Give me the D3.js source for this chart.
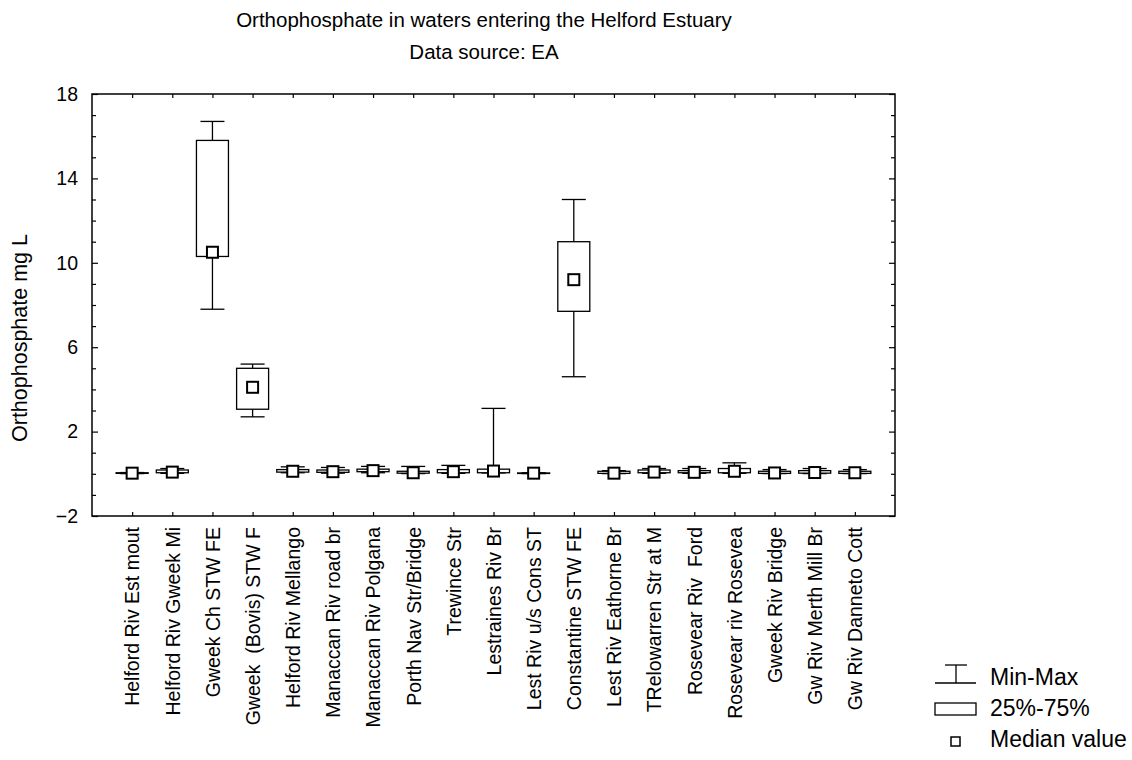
<!DOCTYPE html>
<html>
<head>
<meta charset="utf-8">
<script src="https://cdn.jsdelivr.net/npm/d3@7"></script>
<style>
body { margin: 0; background: #fff; }
text { font-family: "Liberation Sans", Arial, sans-serif; fill: #000; white-space: pre; }
</style>
</head>
<body>
<svg id="chart" width="1132" height="760"></svg>
<script>
const categories = ["Helford Riv Est mout","Helford Riv Gweek Mi","Gweek Ch STW FE","Gweek  (Bovis) STW F","Helford Riv Mellango","Manaccan Riv road br","Manaccan Riv Polgana","Porth Nav Str/Bridge","Trewince Str","Lestraines Riv Br","Lest Riv u/s Cons ST","Constantine STW FE","Lest Riv Eathorne Br","TRelowarren Str at M","Rosevear Riv  Ford","Rosevear riv Rosevea","Gweek Riv Bridge","Gw Riv Merth Mill Br","Gw Riv Danneto Cott"];
const minVals    = [0.01, 0.02, 7.8, 2.7, 0.05, 0.03, 0.05, 0.01, 0.02, 0.04, 0.01, 4.6, 0.01, 0.02, 0.02, 0.02, 0.01, 0.01, 0.01];
const q1Vals     = [0.02, 0.05, 10.3, 3.06, 0.08, 0.07, 0.10, 0.03, 0.05, 0.05, 0.02, 7.7, 0.02, 0.05, 0.05, 0.05, 0.02, 0.03, 0.02];
const medianVals = [0.03, 0.08, 10.5, 4.1, 0.12, 0.10, 0.15, 0.05, 0.10, 0.13, 0.03, 9.2, 0.03, 0.08, 0.07, 0.12, 0.04, 0.06, 0.05];
const q3Vals     = [0.05, 0.18, 15.8, 5.0, 0.20, 0.18, 0.22, 0.12, 0.20, 0.22, 0.04, 11.0, 0.12, 0.18, 0.15, 0.25, 0.12, 0.15, 0.12];
const maxVals    = [0.06, 0.25, 16.7, 5.2, 0.33, 0.30, 0.35, 0.35, 0.40, 3.1, 0.05, 13.0, 0.15, 0.25, 0.25, 0.52, 0.20, 0.25, 0.20];
const yTicks = [-2, 2, 6, 10, 14, 18];
const legendLabels = ["Min-Max", "25%-75%", "Median value"];
const titleLines = ["Orthophosphate in waters entering the Helford Estuary", "Data source: EA"];
const yLabel = "Orthophosphate mg L";

const svg = d3.select("#chart");
const L = 92, R = 895, T = 94, B = 516;
const FONT = "Liberation Sans, Arial, sans-serif";

const x = d3.scalePoint().domain(categories).range([L, R]).padding(1);
const y = d3.scaleLinear().domain([-2, 18]).range([B, T]);

// frame
svg.append("rect").attr("x", L).attr("y", T).attr("width", R - L).attr("height", B - T)
  .attr("fill", "none").attr("stroke", "#000").attr("stroke-width", 1.5);

// Y axes (ticks inside)
const minorTicks = d3.range(-2, 18.001, 1);
const yl = svg.append("g").attr("transform", `translate(${L},0)`)
  .call(d3.axisRight(y).tickValues(minorTicks).tickSize(4).tickFormat(""));
const yr = svg.append("g").attr("transform", `translate(${R},0)`)
  .call(d3.axisLeft(y).tickValues(minorTicks).tickSize(4).tickFormat(""));
[yl, yr].forEach(g => { g.select(".domain").remove(); g.selectAll("line").attr("stroke", "#000").attr("stroke-width", 1.2); });
yl.selectAll(".tick").filter(d => yTicks.includes(d)).select("line").attr("x2", 6);
yr.selectAll(".tick").filter(d => yTicks.includes(d)).select("line").attr("x2", -6);

// Y tick labels
const ylab = svg.append("g").attr("transform", `translate(${L},0)`)
  .call(d3.axisLeft(y).tickValues(yTicks).tickSize(0).tickPadding(14));
ylab.select(".domain").remove();
ylab.selectAll("text").style("font-size", "19.5px").style("font-family", FONT);

// X axes (ticks inside)
const xb = svg.append("g").attr("transform", `translate(0,${B})`)
  .call(d3.axisTop(x).tickSize(4).tickFormat(""));
const xt = svg.append("g").attr("transform", `translate(0,${T})`)
  .call(d3.axisBottom(x).tickSize(4).tickFormat(""));
[xb, xt].forEach(g => { g.select(".domain").remove(); g.selectAll("line").attr("stroke", "#000").attr("stroke-width", 1.2); });

// X labels rotated
const xlab = svg.append("g").attr("transform", `translate(0,${B})`)
  .call(d3.axisBottom(x).tickSize(0).tickPadding(0));
xlab.select(".domain").remove();
xlab.selectAll("text")
  .style("font-size", "19.5px").style("font-family", FONT)
  .attr("text-anchor", "end")
  .attr("transform", "rotate(-90)")
  .attr("x", -11).attr("y", 0).attr("dy", "0.35em");

// boxes
const data = categories.map((c, i) => ({ c, min: minVals[i], q1: q1Vals[i], med: medianVals[i], q3: q3Vals[i], max: maxVals[i] }));
const boxW = 32, capW = 24, medS = 11;
const g = svg.append("g");
const bx = g.selectAll("g.box").data(data).join("g").attr("class", "box");
bx.append("line").attr("x1", d => x(d.c)).attr("x2", d => x(d.c))
  .attr("y1", d => y(d.max)).attr("y2", d => y(d.q3)).attr("stroke", "#000").attr("stroke-width", 1.3);
bx.append("line").attr("x1", d => x(d.c)).attr("x2", d => x(d.c))
  .attr("y1", d => y(d.q1)).attr("y2", d => y(d.min)).attr("stroke", "#000").attr("stroke-width", 1.3);
bx.append("line").attr("x1", d => x(d.c) - capW / 2).attr("x2", d => x(d.c) + capW / 2)
  .attr("y1", d => y(d.max)).attr("y2", d => y(d.max)).attr("stroke", "#000").attr("stroke-width", 1.3);
bx.append("line").attr("x1", d => x(d.c) - capW / 2).attr("x2", d => x(d.c) + capW / 2)
  .attr("y1", d => y(d.min)).attr("y2", d => y(d.min)).attr("stroke", "#000").attr("stroke-width", 1.3);
bx.append("rect").attr("x", d => x(d.c) - boxW / 2).attr("width", boxW)
  .attr("y", d => y(d.q3)).attr("height", d => Math.max(0.5, y(d.q1) - y(d.q3)))
  .attr("fill", "#fff").attr("stroke", "#000").attr("stroke-width", 1.3);
bx.append("rect").attr("x", d => x(d.c) - medS / 2).attr("width", medS)
  .attr("y", d => y(d.med) - medS / 2).attr("height", medS)
  .attr("fill", "#fff").attr("stroke", "#000").attr("stroke-width", 2);

// title
svg.selectAll("text.title").data(titleLines).join("text").attr("class", "title")
  .attr("x", 484).attr("y", (d, i) => 27 + i * 32).attr("text-anchor", "middle")
  .style("font-size", "20.5px").text(d => d);

// y label
svg.append("text").attr("transform", `translate(27,${338}) rotate(-90)`)
  .attr("text-anchor", "middle").style("font-size", "21.5px").text(yLabel);

// legend
const lg = svg.append("g");
lg.append("line").attr("x1", 945).attr("x2", 967).attr("y1", 665).attr("y2", 665).attr("stroke", "#000").attr("stroke-width", 1.3);
lg.append("line").attr("x1", 956).attr("x2", 956).attr("y1", 665).attr("y2", 683).attr("stroke", "#000").attr("stroke-width", 1.3);
lg.append("line").attr("x1", 935).attr("x2", 976).attr("y1", 683).attr("y2", 683).attr("stroke", "#000").attr("stroke-width", 1.3);
lg.append("rect").attr("x", 935).attr("y", 703).attr("width", 41).attr("height", 12).attr("fill", "#fff").attr("stroke", "#000").attr("stroke-width", 1.3);
lg.append("rect").attr("x", 951).attr("y", 737).attr("width", 9).attr("height", 9).attr("fill", "#fff").attr("stroke", "#000").attr("stroke-width", 1.5);
lg.selectAll("text.leg").data(legendLabels).join("text").attr("class", "leg")
  .attr("x", 990).attr("y", (d, i) => 685 + i * 31).style("font-size", "23px").text(d => d);
</script>
</body>
</html>
